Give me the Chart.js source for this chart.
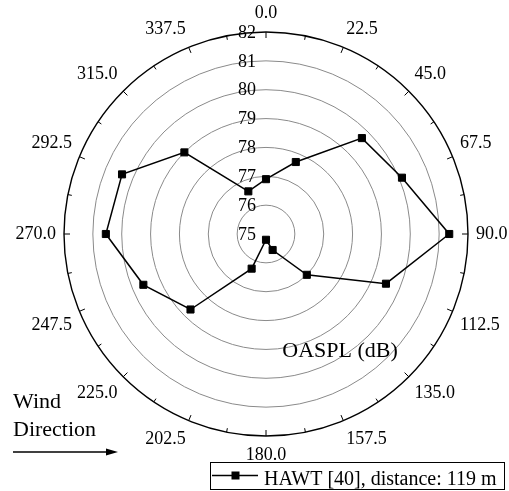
<!DOCTYPE html>
<html>
<head>
<meta charset="utf-8">
<script src="https://cdn.jsdelivr.net/npm/chart.js@4/dist/chart.umd.min.js"></script>
<style>
  html, body { margin: 0; padding: 0; background: #fff; }
  #wrap { width: 509px; height: 491px; position: relative; }
</style>
</head>
<body>
<div id="wrap"><canvas id="polar" width="509" height="491"></canvas></div>
<script>
// Wind direction (degrees) around the dial
const directions = ['0.0', '22.5', '45.0', '67.5', '90.0', '112.5', '135.0', '157.5',
                    '180.0', '202.5', '225.0', '247.5', '270.0', '292.5', '315.0', '337.5'];
// Overall sound pressure level per direction, dB
const oaspl = [76.9, 77.7, 79.7, 80.1, 81.35, 79.5, 77.0, 75.6,
               75.2, 76.3, 78.7, 79.6, 80.55, 80.4, 79.0, 76.6];
// Radial ticks, dB
const radialTicks = [75, 76, 77, 78, 79, 80, 81, 82];

const seriesLabel = 'HAWT [40], distance: 119 m';
const radialTitle = 'OASPL (dB)';
const windText = ['Wind', 'Direction'];

const SERIF = '"Liberation Serif", "Times New Roman", serif';

// Tick labels of the radial axis, drawn over the rings
const radialLabels = {
  id: 'radialLabels',
  beforeDatasetsDraw(chart) {
    const s = chart.scales.r;
    const ctx = chart.ctx;
    ctx.save();
    ctx.font = '18px ' + SERIF;
    ctx.fillStyle = '#000';
    ctx.textAlign = 'center';
    ctx.textBaseline = 'middle';
    radialTicks.forEach(v => {
      const d = s.getDistanceFromCenterForValue(v);
      ctx.fillText(String(v), s.xCenter - 19, s.yCenter - d + 1);
    });
    ctx.restore();
  }
};

// Dial ticks, direction labels, axis title, wind arrow and legend
const polarDecor = {
  id: 'polarDecor',
  afterDraw(chart) {
    const s = chart.scales.r;
    const ctx = chart.ctx;
    const R = s.drawingArea;
    const cx = s.xCenter, cy = s.yCenter;
    ctx.save();

    // tick marks on the outer ring, every 11.25 degrees
    ctx.strokeStyle = '#000';
    ctx.lineWidth = 1;
    const nTicks = directions.length * 2;
    for (let k = 0; k < nTicks; k++) {
      const a = k * 2 * Math.PI / nTicks;
      const len = (k % 2 === 0) ? 6 : 4;
      const sx = Math.sin(a), sy = -Math.cos(a);
      ctx.beginPath();
      ctx.moveTo(cx + sx * R, cy + sy * R);
      ctx.lineTo(cx + sx * (R - len), cy + sy * (R - len));
      ctx.stroke();
    }

    // direction labels around the dial
    ctx.font = '18px ' + SERIF;
    ctx.fillStyle = '#000';
    ctx.textBaseline = 'middle';
    const h = 18 * 1.2;
    directions.forEach((lab, i) => {
      const deg = i * 360 / directions.length;
      const p = s.getPointPosition(i, R + 8);
      let align = 'right';
      if (deg === 0 || deg === 180) align = 'center';
      else if (deg < 180) align = 'left';
      let y = p.y;
      if (deg === 90 || deg === 270) y = p.y;
      else if (deg < 90 || deg > 270) y = p.y - h / 2;
      else y = p.y + h / 2;
      ctx.textAlign = align;
      ctx.fillText(lab, p.x, y);
    });

    // radial axis title
    ctx.font = '22px ' + SERIF;
    ctx.textAlign = 'center';
    ctx.textBaseline = 'alphabetic';
    ctx.fillText(radialTitle, 340, 357);

    // wind direction note and arrow
    ctx.textAlign = 'left';
    ctx.fillText(windText[0], 13, 408);
    ctx.fillText(windText[1], 13, 436);
    ctx.lineWidth = 1.5;
    ctx.beginPath();
    ctx.moveTo(13, 452);
    ctx.lineTo(108, 452);
    ctx.stroke();
    ctx.beginPath();
    ctx.moveTo(118, 452);
    ctx.lineTo(106, 448.5);
    ctx.lineTo(106, 455.5);
    ctx.closePath();
    ctx.fill();

    // legend
    const ds = chart.data.datasets[0];
    ctx.lineWidth = 1;
    ctx.strokeStyle = '#000';
    ctx.strokeRect(210.5, 462.5, 294, 27);
    ctx.strokeStyle = ds.borderColor;
    ctx.lineWidth = ds.borderWidth;
    ctx.beginPath();
    ctx.moveTo(212, 475.5);
    ctx.lineTo(258, 475.5);
    ctx.stroke();
    ctx.fillStyle = ds.pointBackgroundColor;
    ctx.fillRect(231.5, 471.5, 8, 8);
    ctx.fillStyle = '#000';
    ctx.font = '20px ' + SERIF;
    ctx.textAlign = 'left';
    ctx.fillText(ds.label, 264, 485);

    ctx.restore();
  }
};

new Chart(document.getElementById('polar'), {
  type: 'radar',
  data: {
    labels: directions,
    datasets: [{
      label: seriesLabel,
      data: oaspl,
      borderColor: '#000',
      borderWidth: 1.5,
      fill: false,
      tension: 0,
      pointStyle: 'rect',
      pointRadius: 5,
      pointBorderWidth: 1,
      pointBackgroundColor: '#000',
      pointBorderColor: '#000',
      segment: {
        // the trace is open between the last and the first direction
        borderColor: c => (c.p0DataIndex === directions.length - 1 && c.p1DataIndex === 0) ? 'rgba(0,0,0,0)' : '#000'
      }
    }]
  },
  options: {
    responsive: false,
    animation: false,
    events: [],
    layout: { padding: { left: 64, top: 32, right: 41, bottom: 55 } },
    plugins: {
      legend: { display: false },
      tooltip: { enabled: false }
    },
    scales: {
      r: {
        min: radialTicks[0],
        max: radialTicks[radialTicks.length - 1],
        startAngle: 0,
        ticks: { display: false, stepSize: 1 },
        pointLabels: { display: false },
        angleLines: { display: false },
        grid: {
          circular: true,
          color: c => (c.tick && c.tick.value === radialTicks[radialTicks.length - 1]) ? '#000' : '#8a8a8a',
          lineWidth: c => (c.tick && c.tick.value === radialTicks[radialTicks.length - 1]) ? 1.4 : 1
        }
      }
    }
  },
  plugins: [radialLabels, polarDecor]
});
</script>
</body>
</html>
